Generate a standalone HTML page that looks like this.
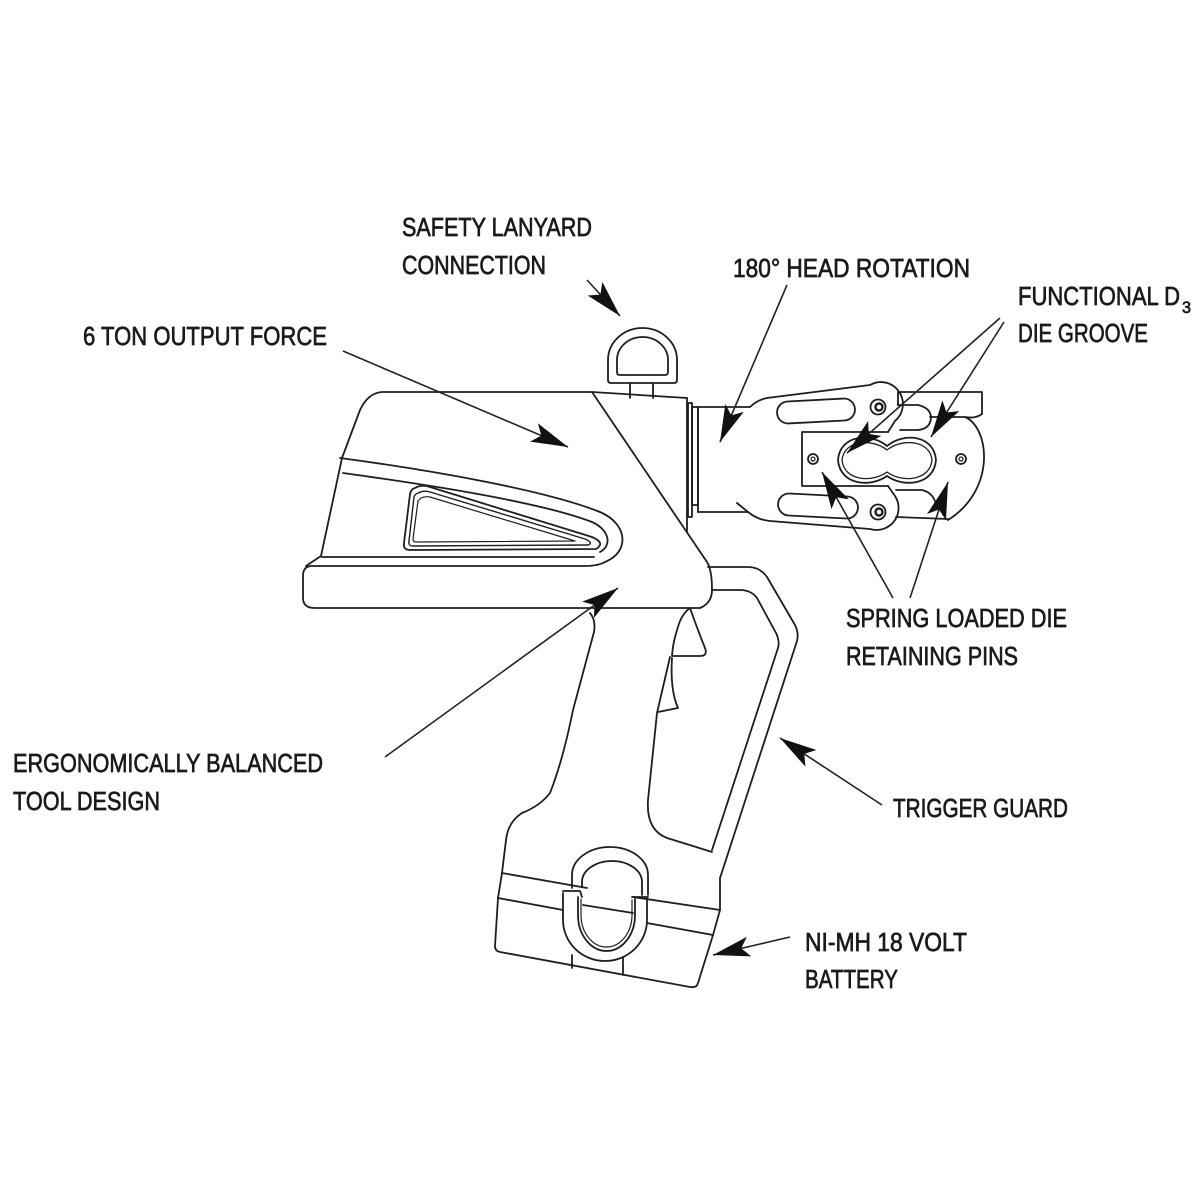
<!DOCTYPE html>
<html>
<head>
<meta charset="utf-8">
<style>
  html,body{margin:0;padding:0;background:#fff;}
  svg{display:block;}
  .l{fill:none;stroke:#1e1e1e;stroke-width:1.8;stroke-linejoin:round;stroke-linecap:round;}
  .t{font-family:"Liberation Sans Narrow","Liberation Sans",sans-serif;font-size:26px;fill:#1a1a1a;stroke:#1a1a1a;stroke-width:0.7;}
  .a{fill:none;stroke:#222;stroke-width:1.6;}
</style>
</head>
<body>
<svg width="1200" height="1200" viewBox="0 0 1200 1200" xmlns="http://www.w3.org/2000/svg">
  <defs>
    <marker id="ah" markerUnits="userSpaceOnUse" markerWidth="50" markerHeight="30" viewBox="-42 -15 50 30" refX="0" refY="0" orient="auto" overflow="visible">
      <path d="M0,0 L-37,-10 L-29,0 L-37,10 Z" fill="#111"/>
    </marker>
  </defs>
  <rect width="1200" height="1200" fill="#fff"/>

  <!-- ===== Main body ===== -->
  <g class="l">
    <path d="M687,398 L592,392 L382,392 Q368,393 360,410 L342,458 L321,556 L306,566"/>
    <path d="M592,392 L707,562 Q712,570 712,590 Q712,603 700,608"/>
    <path d="M340,458 C430,470 545,490 600,512 C628,524 630,552 605,562 Q598,566 585,566 L312,566 Q303,566 303,576 L303,598 Q303,608 315,608 L700,608"/>
    <path d="M322,557 L594,557"/>
    <path d="M343,473 C430,485 540,502 592,522 C610,530 612,546 600,552"/>
    <!-- window -->
    <path d="M415,488 Q422,484 430,487 L592,537 Q606,543 596,549 L410,550 Q403,550 404,543 L410,494 Q411,489 415,488 Z"/>
    <path d="M418,493 Q424,490 430,492 L585,539 Q594,543 588,545 L413,546 Q408,546 409,541 L414,497 Q415,494 418,493 Z" stroke-width="1.4"/>
    <path d="M421,498 Q425,496 430,497 L575,541 L416,542 Q413,542 413,539 L418,501 Z" stroke-width="1.2"/>
    <!-- block -->
    <path d="M687,398 L687,532"/>
    <rect x="688" y="403" width="4" height="114"/>
    <rect x="692" y="407" width="6" height="98"/>
    <!-- lanyard ring -->
    <path d="M608,380 L608,360 A34.5,32 0 0 1 677,360 L677,380 Q677,383 674,383 L611,383 Q608,383 608,380 Z"/>
    <path d="M617,372 L617,360 A25.5,23 0 0 1 668,360 L668,372 Q668,375 665,375 L620,375 Q617,375 617,372 Z"/>
    <path d="M630,383 L630,398 M653,383 L653,398"/>
  </g>

  <!-- ===== Head ===== -->
  <g class="l">
    <path d="M698,407 L698,512"/>
    <path d="M698,407 L750,407 Q757,400 767,398 L870,385 A22,22 0 0 1 895,421 L888,432"/>
    <path d="M698,512 L748,512 Q758,520 770,521 L870,529 A22,22 0 0 0 895,496 L888,486"/>
    <path d="M737,503 L748,512"/>
    <rect x="777" y="400" width="78" height="22" rx="11" transform="rotate(-3 816 411)"/>
    <rect x="778" y="495" width="80" height="22" rx="11" transform="rotate(3 818 506)"/>
    <path d="M888,432 L802,432 L802,486 L888,486"/>
    <path d="M898,405 L898,392 L982,392 L982,414 Q975,419 965,417 L930,417"/>
    <path d="M898,405 L918,405 Q931,408 931,418 Q930,429 918,430 L900,430"/>
    <path d="M965,417 C990,428 996,490 948,520"/>
    <path d="M896,490 L922,490 Q934,493 936,505"/>
    <path d="M896,517 L948,519"/>
    <path d="M887,446 C870,432 840,435 838,460 C840,485 870,488 887,476 C904,488 934,485 936,460 C934,435 904,432 887,446 Z"/>
    <path d="M887,450 C872,438 844,440 842,460 C844,481 872,483 887,472 C902,483 930,481 932,460 C930,440 902,438 887,450 Z" stroke-width="1.3"/>
    <circle cx="813" cy="459" r="5"/>
    <circle cx="813" cy="459" r="2" stroke-width="1.2"/>
    <circle cx="961" cy="459" r="5"/>
    <circle cx="961" cy="459" r="2" stroke-width="1.2"/>
    <circle cx="878" cy="407" r="7.5"/>
    <circle cx="879" cy="407" r="3.5" stroke-width="2.4"/>
    <circle cx="878" cy="512" r="7.5"/>
    <circle cx="879" cy="512" r="3.5" stroke-width="2.4"/>
  </g>

  <!-- ===== Grip & trigger guard ===== -->
  <g class="l">
    <path d="M590,613 Q596,620 594,632 L573,710 Q563,760 550,793 Q540,806 522,813 Q508,822 506,840 L502,873"/>
    <path d="M708,567 L748,567 Q760,567 767,577 L795,625 Q799,633 797,641 L722,872 L720,878"/>
    <path d="M712,590 L742,590 Q752,591 757,598 L776,633 Q780,641 778,648 L712,850"/>
    <path d="M690,608 Q697,628 705,648 Q708,656 700,656 L672,656 Q673,640 680,621 Q684,612 690,608"/>
    <path d="M672,658 Q670,690 678,708 L658,712"/>
    <path d="M670,657 L657,713 L648,800 Q646,830 667,838 Q690,845 712,852"/>
  </g>

  <!-- ===== Battery ===== -->
  <g class="l">
    <path d="M502,873 L587,888"/>
    <path d="M633,897 L720,910"/>
    <path d="M498,898 L563,910"/>
    <path d="M583,905 L633,913"/>
    <path d="M647,923 L713,935"/>
    <path d="M502,873 L498,898 L495,946 Q495,951 500,952 L690,987 Q697,988 698,983 L713,935 L720,910 L720,878"/>
    <path d="M572,888 L572,875 A38,28 0 0 1 648,875 L648,895"/>
    <path d="M582,886 L582,882 A30,21 0 0 1 642,882 L642,895"/>
    <path d="M563,893 L563,920 A42,41 0 0 0 647,920 L647,897"/>
    <path d="M578,897 L578,915 A28.5,36 0 0 0 635,915 L635,899"/>
    <path d="M581,899 L581,915 A25.5,32 0 0 0 632,915 L632,900" stroke-width="1.2"/>
    <path d="M563,891 L580,891 L582,897"/>
    <path d="M632,897 L648,897"/>
    <path d="M572,955 L572,968 M623,958 L623,975"/>
  </g>

  <!-- ===== Leader lines ===== -->
  <g class="a">
    <line x1="587" y1="280" x2="620" y2="316" marker-end="url(#ah)"/>
    <line x1="343" y1="351" x2="568" y2="447" marker-end="url(#ah)"/>
    <line x1="787" y1="285" x2="720" y2="442" marker-end="url(#ah)"/>
    <line x1="1000" y1="318" x2="847" y2="453" marker-end="url(#ah)"/>
    <line x1="1004" y1="322" x2="931" y2="437" marker-end="url(#ah)"/>
    <line x1="893" y1="598" x2="822" y2="472" marker-end="url(#ah)"/>
    <line x1="910" y1="598" x2="948" y2="482" marker-end="url(#ah)"/>
    <line x1="385" y1="757" x2="618" y2="588" marker-end="url(#ah)"/>
    <line x1="882" y1="805" x2="780" y2="738" marker-end="url(#ah)"/>
    <line x1="790" y1="937" x2="713" y2="955" marker-end="url(#ah)"/>
  </g>

  <!-- ===== Labels ===== -->
  <g class="t">
    <text x="402" y="236" textLength="190" lengthAdjust="spacingAndGlyphs">SAFETY LANYARD</text>
    <text x="402" y="274" textLength="144" lengthAdjust="spacingAndGlyphs">CONNECTION</text>
    <text x="83" y="345" textLength="244" lengthAdjust="spacingAndGlyphs">6 TON OUTPUT FORCE</text>
    <text x="733" y="277" textLength="237" lengthAdjust="spacingAndGlyphs">180° HEAD ROTATION</text>
    <text x="1018" y="305" textLength="162" lengthAdjust="spacingAndGlyphs">FUNCTIONAL D</text>
    <text x="1182" y="313" style="font-size:17px" textLength="9" lengthAdjust="spacingAndGlyphs">3</text>
    <text x="1018" y="342" textLength="130" lengthAdjust="spacingAndGlyphs">DIE GROOVE</text>
    <text x="846" y="627" textLength="221" lengthAdjust="spacingAndGlyphs">SPRING LOADED DIE</text>
    <text x="846" y="665" textLength="172" lengthAdjust="spacingAndGlyphs">RETAINING PINS</text>
    <text x="13" y="772" textLength="310" lengthAdjust="spacingAndGlyphs">ERGONOMICALLY BALANCED</text>
    <text x="13" y="810" textLength="147" lengthAdjust="spacingAndGlyphs">TOOL DESIGN</text>
    <text x="893" y="817" textLength="175" lengthAdjust="spacingAndGlyphs">TRIGGER GUARD</text>
    <text x="805" y="951" textLength="162" lengthAdjust="spacingAndGlyphs">NI-MH 18 VOLT</text>
    <text x="805" y="988" textLength="93" lengthAdjust="spacingAndGlyphs">BATTERY</text>
  </g>
</svg>
</body>
</html>
